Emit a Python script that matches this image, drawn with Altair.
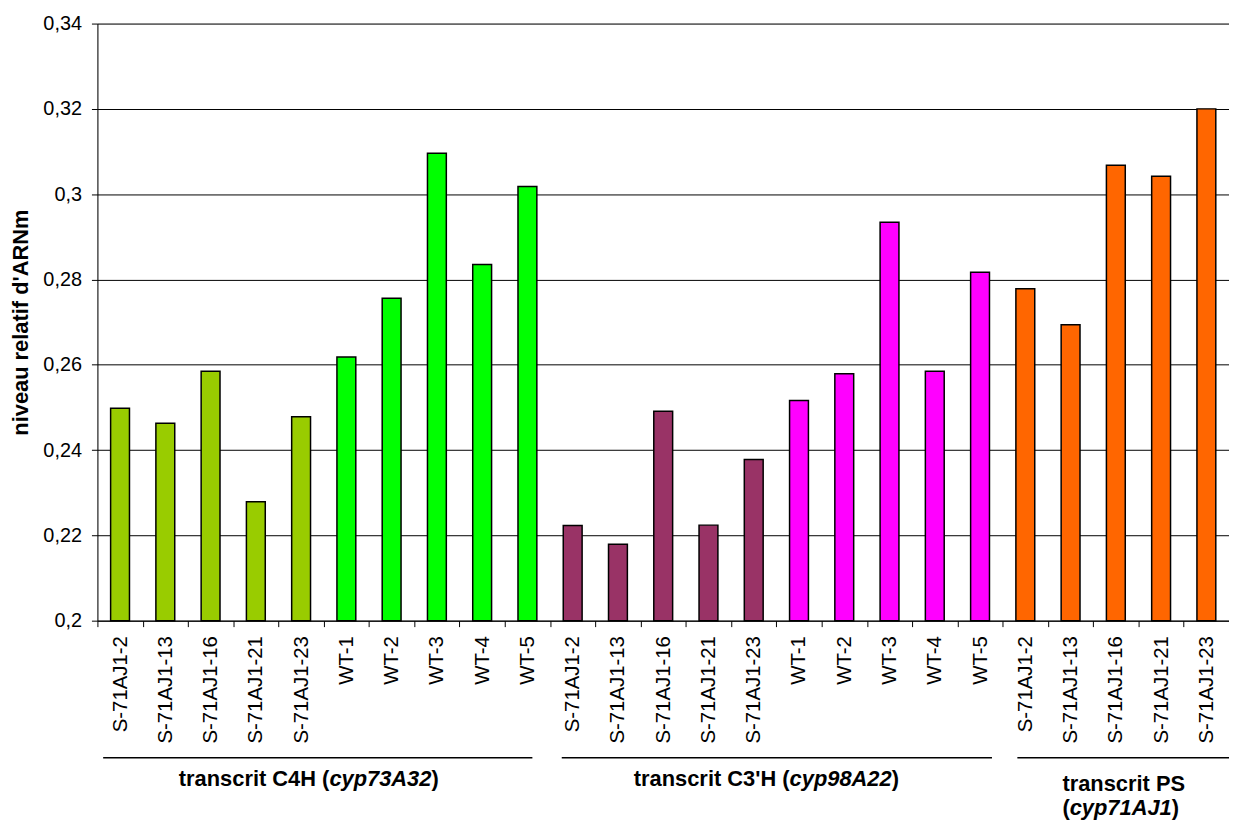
import altair as alt
import pandas as pd

# ---------------- data ----------------
group_ids = ["C4H"] * 10 + ["C3H"] * 10 + ["PS"] * 5
line_names = (["S-71AJ1-2", "S-71AJ1-13", "S-71AJ1-16", "S-71AJ1-21", "S-71AJ1-23",
               "WT-1", "WT-2", "WT-3", "WT-4", "WT-5"] * 2
              + ["S-71AJ1-2", "S-71AJ1-13", "S-71AJ1-16", "S-71AJ1-21", "S-71AJ1-23"])
values_c4h = [0.2498, 0.2463, 0.2585, 0.2279, 0.2478, 0.2618, 0.2756, 0.3096, 0.2835, 0.3018]
values_c3h = [0.2223, 0.2179, 0.2491, 0.2224, 0.2378, 0.2516, 0.2579, 0.2934, 0.2585, 0.2817]
values_ps = [0.2778, 0.2694, 0.3068, 0.3042, 0.3200]
bar_colors = (["#99CC00"] * 5 + ["#00FF00"] * 5 + ["#993366"] * 5 + ["#FF00FF"] * 5
              + ["#FF6600"] * 5)
y_ticks = [0.20, 0.22, 0.24, 0.26, 0.28, 0.30, 0.32, 0.34]

values = values_c4h + values_c3h + values_ps
keys = [f"{g}|{n}" for g, n in zip(group_ids, line_names)]
df = pd.DataFrame({"key": keys, "value": values, "color": bar_colors})

# ---------------- layout ----------------
W, H = 1139, 601
N = len(keys)
step = W / N
FONT = "Liberation Sans"

x_scale = alt.Scale(domain=keys, paddingInner=0.5833, paddingOuter=0.2917)
y_scale = alt.Scale(domain=[y_ticks[0], y_ticks[-1]], zero=False, nice=False, clamp=True)

x_axis = alt.Axis(title=None, labelExpr="split(datum.value, '|')[1]",
                  labelAngle=270, labelFontSize=20.5, labelFont=FONT,
                  labelColor="black", labelPadding=9, labelOverlap=False,
                  tickSize=6, tickColor="black", tickOffset=-step / 2,
                  labelOffset=step / 2, domainColor="black", grid=False)

bars = alt.Chart(df).mark_bar(stroke="black", strokeWidth=1.5).encode(
    x=alt.X("key:N", scale=x_scale, sort=keys, axis=x_axis),
    y=alt.Y("value:Q", scale=y_scale,
            axis=alt.Axis(values=y_ticks,
                          labelExpr="replace(format(datum.value, '.2~f'), '.', ',')",
                          title="niveau relatif d'ARNm", titleFont=FONT, titleFontSize=22,
                          titleFontWeight="bold", titleColor="black", titleAngle=270,
                          titleX=-77, titleY=H / 2, titleAlign="center",
                          titleBaseline="middle", grid=True, gridColor="black",
                          gridWidth=1, domainColor="black", tickColor="black",
                          tickSize=6, labelFontSize=20, labelFont=FONT,
                          labelColor="black", labelPadding=10)),
    y2=alt.datum(y_ticks[0]),
    fill=alt.Color("color:N", scale=None),
)

# ---------------- group annotations ----------------
group_defs = [
    {"first": keys[0], "last": keys[9], "anchor": keys[4], "shift": step / 2 - 12,
     "line_off": (-17, 5),
     "lines": [[("transcrit C4H (", "normal"), ("cyp73A32", "italic"), (" )", "normal")]]},
    {"first": keys[10], "last": keys[19], "anchor": keys[14], "shift": step / 2 - 7,
     "line_off": (-11, 12),
     "lines": [[("transcrit C3'H (", "normal"), ("cyp98A22", "italic"), (" )", "normal")]]},
    {"first": keys[20], "last": keys[24], "anchor": keys[22], "shift": 8,
     "line_off": (-8, 30),
     "lines": [[("transcrit PS", "normal")],
               [("(", "normal"), ("cyp71AJ1", "italic"), (" )", "normal")]]},
]

BOLD_W = {" ": 278, "(": 333, ")": 333, "'": 238, "A": 722, "C": 722, "H": 722,
          "J": 556, "P": 667, "S": 667, "a": 556, "c": 556, "i": 278, "n": 611,
          "p": 611, "r": 389, "s": 556, "t": 333, "y": 556}
for d in "0123456789":
    BOLD_W[d] = 556
LBL_SIZE = 22


def text_width(s):
    return sum(BOLD_W.get(ch, 556) for ch in s) / 1000 * LBL_SIZE


layers = [bars]
line_baselines = {1: [767], 2: [772, 797]}
for g in group_defs:
    gl_df = pd.DataFrame({"first": [g["first"]], "last": [g["last"]]})
    layers.append(
        alt.Chart(gl_df).mark_rule(color="black", strokeWidth=1.3,
                                   xOffset=g["line_off"][0],
                                   x2Offset=g["line_off"][1]).encode(
            x=alt.X("first:N", scale=x_scale, axis=x_axis),
            x2="last:N",
            y=alt.value(739),
        )
    )
    baselines = line_baselines[len(g["lines"])]
    for li, pieces in enumerate(g["lines"]):
        total = sum(text_width(t) for t, _ in pieces)
        pos = -total / 2
        for txt, style in pieces:
            tdf = pd.DataFrame({"anchor": [g["anchor"]], "txt": [txt]})
            layers.append(
                alt.Chart(tdf).mark_text(
                    align="left", baseline="alphabetic", font=FONT, fontSize=LBL_SIZE,
                    fontWeight="bold", fontStyle=style, color="black",
                    dx=pos + g["shift"],
                ).encode(
                    x=alt.X("anchor:N", scale=x_scale, axis=x_axis),
                    y=alt.value(baselines[li]),
                    text="txt:N",
                )
            )
            pos += text_width(txt)

chart = alt.layer(*layers).properties(
    width=W, height=H,
    autosize=alt.AutoSizeParams(type="none"),
    padding={"left": 90, "top": 13, "right": 0, "bottom": 203},
).configure_view(stroke="transparent").configure(background="white")

chart.save("out.html", embed_options={"renderer": "svg", "actions": False})
